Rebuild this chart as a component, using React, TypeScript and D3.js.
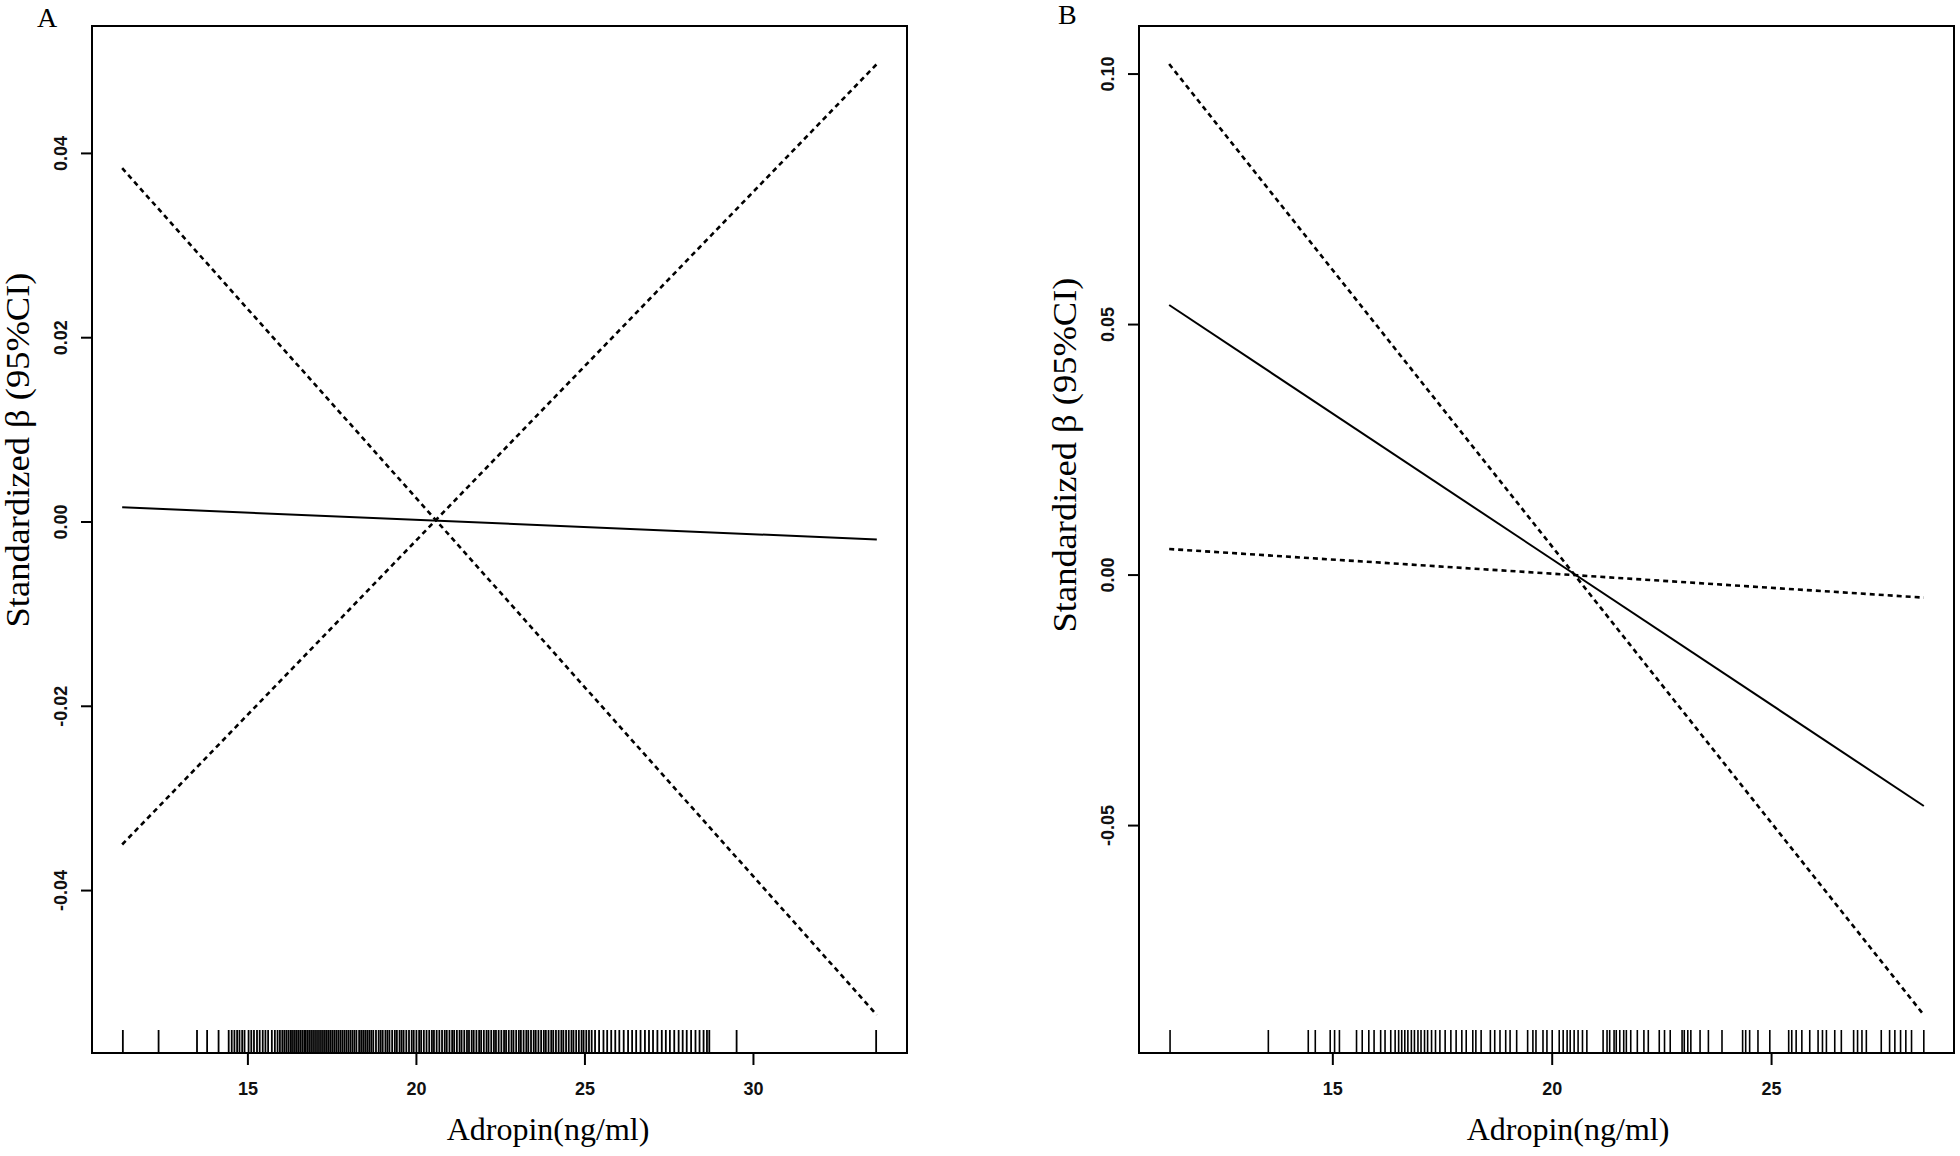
import React from "react";
import * as d3 from "d3";

// panel A: line endpoints
const xEndsA = [11.27, 33.66];
const betaA = [0.0016, -0.0019];
const ciFallA = [0.0384, -0.0535];
const ciRiseA = [-0.035, 0.0497];
const yTicksA = [-0.04, -0.02, 0, 0.02, 0.04];
const xTicksA = [15, 20, 25, 30];
const rugA = [
  11.29, 12.35, 13.49, 13.79, 14.13, 14.43, 14.52, 14.6, 14.68, 14.75, 14.83, 14.9, 15.02, 15.1,
  15.18, 15.27, 15.35, 15.44, 15.52, 15.6, 15.71, 15.8, 15.88, 15.95, 16.02, 16.08, 16.14, 16.2,
  16.26, 16.31, 16.37, 16.43, 16.49, 16.55, 16.61, 16.67, 16.72, 16.78, 16.84, 16.9, 16.96, 17.02,
  17.08, 17.14, 17.2, 17.26, 17.32, 17.38, 17.44, 17.5, 17.56, 17.62, 17.68, 17.74, 17.8, 17.86,
  17.92, 17.98, 18.04, 18.1, 18.16, 18.22, 18.3, 18.36, 18.42, 18.48, 18.54, 18.6, 18.66, 18.72,
  18.8, 18.88, 18.94, 19.0, 19.08, 19.14, 19.2, 19.28, 19.36, 19.42, 19.5, 19.56, 19.62, 19.7,
  19.78, 19.86, 19.92, 20.0, 20.08, 20.14, 20.22, 20.3, 20.38, 20.46, 20.52, 20.6, 20.68, 20.76,
  20.84, 20.9, 20.98, 21.06, 21.12, 21.2, 21.28, 21.34, 21.42, 21.5, 21.56, 21.64, 21.7, 21.78,
  21.86, 21.92, 22.0, 22.08, 22.14, 22.22, 22.3, 22.36, 22.44, 22.52, 22.6, 22.66, 22.74, 22.82,
  22.88, 22.96, 23.04, 23.1, 23.18, 23.26, 23.32, 23.4, 23.48, 23.54, 23.62, 23.7, 23.78, 23.84,
  23.92, 24.0, 24.06, 24.14, 24.22, 24.3, 24.36, 24.44, 24.52, 24.6, 24.66, 24.74, 24.82, 24.9,
  24.96, 25.04, 25.12, 25.2, 25.3, 25.42, 25.55, 25.66, 25.78, 25.9, 26.02, 26.15, 26.28, 26.4,
  26.52, 26.65, 26.78, 26.9, 27.02, 27.15, 27.28, 27.4, 27.52, 27.65, 27.78, 27.9, 28.02, 28.15,
  28.28, 28.4, 28.52, 28.62, 28.69, 29.5, 33.64,
];

// panel B
const xEndsB = [11.27, 28.47];
const betaB = [0.0539, -0.0461];
const ciSteepB = [0.102, -0.0878];
const ciFlatB = [0.0052, -0.0045];
const yTicksB = [-0.05, 0, 0.05, 0.1];
const xTicksB = [15, 20, 25];
const rugB = [
  11.29, 13.53, 14.44, 14.6, 14.94, 15.04, 15.15, 15.54, 15.67, 15.82, 15.94, 16.09, 16.19, 16.32,
  16.42, 16.5, 16.57, 16.64, 16.71, 16.79, 16.86, 16.94, 17.01, 17.09, 17.16, 17.25, 17.34, 17.44,
  17.56, 17.69, 17.81, 17.94, 18.04, 18.19, 18.26, 18.38, 18.59, 18.69, 18.81, 18.94, 19.04, 19.19,
  19.44, 19.56, 19.63, 19.79, 19.88, 20.0, 20.16, 20.25, 20.34, 20.41, 20.5, 20.59, 20.69, 20.79,
  21.16, 21.25, 21.31, 21.41, 21.46, 21.54, 21.63, 21.69, 21.79, 21.94, 22.09, 22.19, 22.44, 22.56,
  22.69, 22.96, 23.01, 23.09, 23.16, 23.37, 23.56, 23.87, 24.34, 24.41, 24.5, 24.69, 24.96, 25.39,
  25.46, 25.56, 25.69, 25.87, 26.06, 26.16, 26.25, 26.44, 26.59, 26.87, 26.96, 27.06, 27.16, 27.5,
  27.69, 27.81, 27.94, 28.06, 28.19, 28.47,
];

const xTitle = "Adropin(ng/ml)";
const yTitle = "Standardized β (95%CI)";

// R style 4% axis extension
function pad(ext) {
  const d = (ext[1] - ext[0]) * 0.04;
  return [ext[0] - d, ext[1] + d];
}

const fmtY = (v) => (v < 0 ? "-" : "") + Math.abs(v).toFixed(2);

function Panel({ label, labelX, labelY, left, right, top, bottom, xs, solid, dashed, yTicks, xTicks, rug, rugW, xTitleX, yTitleY }) {
  const allY = [...solid, ...dashed.flat()];
  const x = d3.scaleLinear().domain(pad([xs[0], xs[1]])).range([left, right]);
  const y = d3.scaleLinear().domain(pad(d3.extent(allY))).range([bottom, top]);
  const line = d3.line().x((d) => x(d[0])).y((d) => y(d[1]));
  const pts = (vals) => xs.map((xv, i) => [xv, vals[i]]);

  return (
    <g>
      <text x={labelX} y={labelY} fontFamily="Liberation Serif" fontSize={28}>
        {label}
      </text>
      <rect x={left} y={top} width={right - left} height={bottom - top} fill="none" stroke="#000" strokeWidth={2} />

      {rug.map((r, i) => (
        <line key={"r" + i} x1={x(r)} x2={x(r)} y1={bottom} y2={bottom - 23} stroke="#000" strokeWidth={rugW} />
      ))}

      <path d={line(pts(solid))} fill="none" stroke="#000" strokeWidth={2} />
      {dashed.map((dv, i) => (
        <path key={"d" + i} d={line(pts(dv))} fill="none" stroke="#000" strokeWidth={2.6} strokeDasharray="5 4" />
      ))}

      {yTicks.map((t) => (
        <g key={"y" + t}>
          <line x1={left - 11} x2={left} y1={y(t)} y2={y(t)} stroke="#000" strokeWidth={2} />
          <text
            transform={`translate(${left - 25},${y(t)}) rotate(-90)`}
            textAnchor="middle"
            fontFamily="Liberation Sans"
            fontWeight="bold"
            fontSize={18}
            fill="#111"
          >
            {fmtY(t)}
          </text>
        </g>
      ))}

      {xTicks.map((t) => (
        <g key={"x" + t}>
          <line x1={x(t)} x2={x(t)} y1={bottom} y2={bottom + 12} stroke="#000" strokeWidth={2} />
          <text x={x(t)} y={bottom + 42} textAnchor="middle" fontFamily="Liberation Sans" fontWeight="bold" fontSize={18} fill="#111">
            {t}
          </text>
        </g>
      ))}

      <text x={xTitleX} y={1140} textAnchor="middle" fontFamily="Liberation Serif" fontSize={32}>
        {xTitle}
      </text>
      <text
        transform={`translate(${left - 63},${yTitleY}) rotate(-90)`}
        textAnchor="middle"
        fontFamily="Liberation Serif"
        fontSize={33}
        textLength={355}
        lengthAdjust="spacingAndGlyphs"
      >
        {yTitle}
      </text>
    </g>
  );
}

export default function App() {
  return (
    <svg width={1960} height={1156} style={{ position: "absolute", left: 0, top: 0, background: "#fff" }}>
      <rect width={1960} height={1156} fill="#fff" />
      <Panel
        label="A"
        labelX={37}
        labelY={27}
        left={92}
        right={907}
        top={26}
        bottom={1053}
        xs={xEndsA}
        solid={betaA}
        dashed={[ciFallA, ciRiseA]}
        yTicks={yTicksA}
        xTicks={xTicksA}
        rug={rugA}
        rugW={1.8}
        xTitleX={548}
        yTitleY={450}
      />
      <Panel
        label="B"
        labelX={1058}
        labelY={24}
        left={1139}
        right={1954}
        top={26}
        bottom={1053}
        xs={xEndsB}
        solid={betaB}
        dashed={[ciSteepB, ciFlatB]}
        yTicks={yTicksB}
        xTicks={xTicksB}
        rug={rugB}
        rugW={1.6}
        xTitleX={1568}
        yTitleY={455}
      />
    </svg>
  );
}
